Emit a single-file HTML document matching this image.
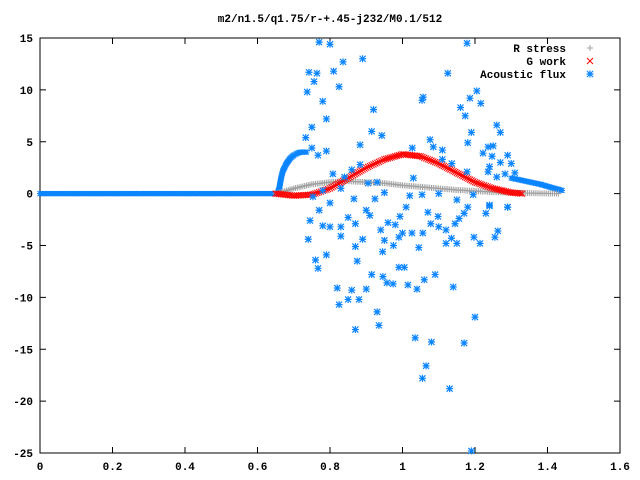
<!DOCTYPE html>
<html><head><meta charset="utf-8"><style>
body{margin:0;background:#fff}
svg{display:block;font-family:"Liberation Mono",monospace;font-size:11px;font-weight:bold}
</style></head><body>
<svg id="c" width="640" height="480" xmlns="http://www.w3.org/2000/svg">
<text x="330" y="22" text-anchor="middle">m2/n1.5/q1.75/r-+.45-j232/M0.1/512</text>
</svg>
<script>
const xTicks=[0,0.2,0.4,0.6,0.8,1,1.2,1.4,1.6];
const xTickLabels=["0","0.2","0.4","0.6","0.8","1","1.2","1.4","1.6"];
const yTicks=[-25,-20,-15,-10,-5,0,5,10,15];
const yTickLabels=["-25","-20","-15","-10","-5","0","5","10","15"];
const rStressX=[0.65,0.70,0.75,0.80,0.85,0.90,0.95,1.0,1.05,1.1,1.15,1.2,1.25,1.3,1.35,1.43];
const rStressY=[0,0.5,0.9,1.1,1.2,1.1,1.0,0.8,0.65,0.5,0.35,0.25,0.15,0.1,0.05,0];
const gWorkX=[0.65,0.7,0.75,0.8,0.85,0.9,0.95,1.0,1.05,1.1,1.15,1.2,1.25,1.3,1.33];
const gWorkY=[0,-0.2,-0.1,0.5,1.5,2.5,3.3,3.8,3.6,2.9,2.0,1.1,0.5,0.1,0];
const fluxLineX=[0,0.655,0.66,0.665,0.67,0.68,0.69,0.70,0.71,0.72,0.735];
const fluxLineY=[0,0,0.5,1.5,2.2,2.9,3.4,3.7,3.9,4.0,4.0];
const fluxTailX=[1.30,1.34,1.38,1.42,1.44];
const fluxTailY=[1.5,1.2,0.9,0.5,0.3];
const fluxScatX=[0.77,0.80,0.836,0.89,0.742,0.764,0.756,0.81,0.825,0.737,0.78,0.79,0.75,0.733,0.75,0.767,0.79,0.92,0.883,0.915,0.943,1.125,1.054,1.057,1.076,1.085,1.11,1.027,1.11,1.136,1.16,1.173,1.19,1.18,1.178,1.178,1.205,1.186,1.216,1.222,1.236,1.25,1.247,1.26,1.27,1.29,1.30,1.27,1.24,1.283,1.26,1.31,1.236,0.883,0.86,0.808,0.84,1.03,0.83,0.905,0.93,0.95,0.78,0.753,0.80,0.77,0.866,0.924,1.02,1.054,1.10,1.15,1.195,1.24,1.29,0.745,0.74,0.76,0.767,0.79,0.82,0.825,0.85,0.86,0.88,0.87,0.90,0.915,0.93,0.935,0.946,0.957,0.974,0.99,1.005,1.015,1.04,1.06,1.09,1.035,1.08,1.065,1.055,1.13,1.17,1.20,1.14,1.19,1.045,0.875,0.87,0.89,0.83,0.78,0.80,0.83,0.85,0.87,0.90,0.91,0.94,0.945,0.96,0.95,0.975,0.98,0.993,1.0,0.99,1.01,1.026,1.056,1.07,1.078,1.098,1.10,1.12,1.12,1.135,1.145,1.15,1.156,1.17,1.18,1.197,1.214,1.23,1.24,1.255,1.263,1.29];
const fluxScatY=[14.6,14.4,12.7,13.0,11.7,11.6,10.8,11.8,10.3,9.8,8.9,7.2,6.4,5.4,4.4,3.7,4.1,8.1,4.7,6.0,5.6,11.6,9.0,9.3,5.2,4.5,4.2,4.4,3.3,2.9,8.3,7.5,5.9,4.9,2.1,14.5,9.9,9.2,8.7,3.9,4.5,4.6,3.6,6.6,5.9,3.7,2.9,3.0,2.6,1.9,1.6,2.0,2.1,2.8,2.3,1.9,1.6,1.5,0.5,1.0,1.1,0.1,0.3,-0.3,-0.9,-1.6,-0.5,-0.5,-0.2,-0.1,0.0,-0.6,-0.1,-1.1,-1.3,-2.6,-4.4,-6.4,-7.2,-5.9,-9.1,-10.7,-10.2,-9.3,-10.2,-13.1,-9.2,-7.8,-11.4,-12.7,-8.0,-8.6,-8.7,-7.1,-7.1,-8.8,-9.2,-8.3,-7.8,-13.9,-14.3,-16.6,-17.8,-18.8,-14.4,-11.9,-9.0,-24.8,-5.2,-6.5,-5.1,-4.4,-4.1,-3.1,-3.2,-3.2,-2.3,-2.9,-1.6,-2.1,-3.5,-5.6,-2.8,-4.5,-5.0,-3.0,-2.2,-3.8,-4.2,-1.3,-3.8,-3.8,-1.8,-2.9,-2.2,-3.2,-3.5,-4.8,-4.3,-2.9,-4.8,-2.4,-1.9,-1.3,-4.2,-4.8,-1.9,-1.2,-4.2,-3.6,-1.3];

const svg=document.getElementById('c');
const NS='http://www.w3.org/2000/svg';
const L=40,R=620,T=38,B=453;
const sx=v=>L+(v-0)/(1.6-0)*(R-L);
const sy=v=>B-(v+25)/(40)*(B-T);
function mk(tag,attrs,parent){const e=document.createElementNS(NS,tag);for(const k in attrs)e.setAttribute(k,attrs[k]);(parent||svg).appendChild(e);return e;}

const frame=mk('rect',{x:L,y:T,width:R-L,height:B-T,fill:'none',stroke:'#000','stroke-width':1});



const xAxis=mk('g',{});


xTicks.forEach((v,i)=>{
  const x=sx(v);
  mk('line',{x1:x,y1:B,x2:x,y2:B-6,stroke:'#000'},xAxis);
  mk('line',{x1:x,y1:T,x2:x,y2:T+6,stroke:'#000'},xAxis);
  const t=mk('text',{x:x,y:470,'text-anchor':'middle'},xAxis);
  t.textContent=xTickLabels[i];
  
  
});
const yAxis=mk('g',{});


yTicks.forEach((v,i)=>{
  const y=sy(v);
  mk('line',{x1:L,y1:y,x2:L+6,y2:y,stroke:'#000'},yAxis);
  mk('line',{x1:R,y1:y,x2:R-6,y2:y,stroke:'#000'},yAxis);
  const t=mk('text',{x:33,y:y+4,'text-anchor':'end'},yAxis);
  t.textContent=yTickLabels[i];
  
  
});

function plus(g,x,y,c){mk('path',{d:`M${x-3},${y}h6M${x},${y-3}v6`,stroke:c,'stroke-width':1,fill:'none'},g);}
function cross(g,x,y,c){mk('path',{d:`M${x-3},${y-3}l6,6M${x-3},${y+3}l6,-6`,stroke:c,'stroke-width':1,fill:'none'},g);}
function star(g,x,y,c){mk('path',{d:`M${x-3.5},${y}h7M${x},${y-3.5}v7M${x-3},${y-3}l6,6M${x-3},${y+3}l6,-6`,stroke:c,'stroke-width':1.2,fill:'none'},g);}
function starS(g,x,y,c){mk('path',{d:`M${x-3},${y}h6M${x},${y-2.5}v5M${x-2.5},${y-2.5}l5,5M${x-2.5},${y+2.5}l5,-5`,stroke:c,'stroke-width':1,fill:'none'},g);}
function dense(g,xs,ys,fn,c,step){
  for(let i=0;i<xs.length-1;i++){
    const x0=sx(xs[i]),y0=sy(ys[i]),x1=sx(xs[i+1]),y1=sy(ys[i+1]);
    const n=Math.max(1,Math.ceil(Math.hypot(x1-x0,y1-y0)/step));
    for(let k=0;k<n;k++){const f=k/n;fn(g,x0+(x1-x0)*f,y0+(y1-y0)*f,c);}
  }
  fn(g,sx(xs[xs.length-1]),sy(ys[ys.length-1]),c);
}
const blue='#0a84ff',red='#ff0000',gray='#a0a0a0';
const gFlux=mk('g',{});


dense(gFlux,fluxLineX,fluxLineY,starS,blue,1.5);
dense(gFlux,fluxTailX,fluxTailY,starS,blue,1.5);
const gR=mk('g',{});


dense(gR,rStressX,rStressY,plus,gray,2);
const gG=mk('g',{});


dense(gG,gWorkX,gWorkY,cross,red,2);
const gS=mk('g',{});


fluxScatX.forEach((v,i)=>star(gS,sx(v),sy(fluxScatY[i]),blue));

const leg=mk('g',{});


[['R stress',plus,gray,48],['G work',cross,red,61],['Acoustic flux',star,blue,74]].forEach(e=>{
  const t=mk('text',{x:566,y:e[3]+4,'text-anchor':'end'},leg);
  t.textContent=e[0];
  
  
  e[1](leg,590,e[3],e[2]);
});
</script>
</body></html>
